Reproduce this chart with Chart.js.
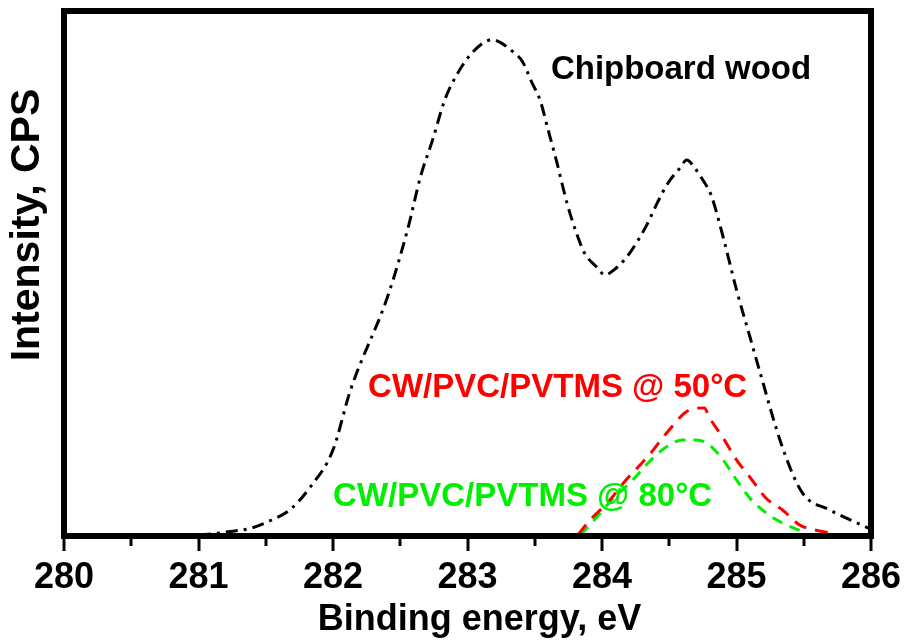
<!DOCTYPE html>
<html>
<head>
<meta charset="utf-8">
<script src="https://cdn.jsdelivr.net/npm/chart.js@4/dist/chart.umd.min.js"></script>
<style>
  html, body { margin: 0; padding: 0; background: #ffffff; }
  #wrap { width: 907px; height: 641px; }
</style>
</head>
<body>
<div id="wrap"><canvas id="c" width="907" height="641"></canvas></div>
<script>
// ---- Data ----
const xTickValues = [280, 281, 282, 283, 284, 285, 286];
const xTitle = 'Binding energy, eV';
const yTitle = 'Intensity, CPS';

const seriesNames = ['Chipboard wood', 'CW/PVC/PVTMS @ 50°C', 'CW/PVC/PVTMS @ 80°C'];

const energyCW = [280.0, 280.5, 281.0, 281.22, 281.39, 281.54, 281.68, 281.83, 282.00, 282.13, 282.41, 282.56, 282.65, 282.74, 282.83, 282.91, 283.04, 283.18, 283.34, 283.41, 283.48, 283.54, 283.60, 283.66, 283.74, 283.81, 283.87, 283.97, 284.02, 284.09, 284.18, 284.27, 284.34, 284.41, 284.49, 284.58, 284.63, 284.69, 284.75, 284.81, 284.90, 285.00, 285.10, 285.17, 285.34, 285.49, 285.69, 285.93, 286.0];
const intensityCW = [0, 0, 0.2, 0.8, 1.5, 3.0, 5.0, 9.3, 16.4, 27.8, 45.9, 58.9, 68.4, 75.4, 83.0, 87.4, 92.2, 94.5, 92.2, 90.3, 86.3, 83.0, 77.3, 71.6, 63.4, 57.7, 53.9, 51.0, 49.7, 50.7, 53.0, 56.4, 59.6, 63.4, 67.2, 70.1, 71.6, 70.1, 67.8, 65.0, 57.0, 46.9, 37.9, 31.6, 17.0, 8.2, 5.0, 2.1, 1.3];

const energy50 = [283.82, 283.91, 284.04, 284.18, 284.35, 284.48, 284.65, 284.76, 284.80, 284.90, 285.00, 285.10, 285.22, 285.34, 285.47, 285.59, 285.69];
const intensity50 = [0.2, 3.0, 6.3, 10.7, 15.4, 19.6, 24.0, 24.4, 22.5, 18.7, 14.5, 11.2, 7.2, 5.0, 2.1, 1.1, 0.6];

const energy80 = [283.84, 283.93, 284.06, 284.23, 284.35, 284.48, 284.60, 284.70, 284.78, 284.90, 285.00, 285.10, 285.22, 285.34, 285.49];
const intensity80 = [0.2, 2.7, 6.5, 10.7, 14.1, 17.0, 18.3, 18.3, 17.7, 14.5, 10.7, 7.2, 4.4, 2.5, 0.8];

// ---- Build datasets ----
const toPoints = (xs, ys) => xs.map((x, i) => ({ x: x, y: ys[i] }));

const FONT = '"Liberation Sans", Arial, sans-serif';

const framePlugin = {
  id: 'frame',
  beforeDraw(chart) {
    const ctx = chart.ctx;
    ctx.save();
    ctx.fillStyle = '#ffffff';
    ctx.fillRect(0, 0, chart.width, chart.height);
    ctx.restore();
  },
  afterDraw(chart) {
    const ctx = chart.ctx;
    const a = chart.chartArea;
    const xs = chart.scales.x;
    ctx.save();
    // ticks: major at integers, minor at halves
    ctx.strokeStyle = '#000';
    ctx.lineWidth = 3;
    for (let v = xs.min; v <= xs.max + 1e-9; v += 0.5) {
      const px = Math.round(xs.getPixelForValue(v));
      const major = Math.abs(v - Math.round(v)) < 1e-6;
      ctx.beginPath();
      ctx.moveTo(px, a.bottom);
      ctx.lineTo(px, a.bottom + (major ? 15 : 10));
      ctx.stroke();
    }
    // frame
    ctx.lineWidth = 6;
    ctx.lineJoin = 'miter';
    ctx.strokeRect(a.left, a.top, a.right - a.left, a.bottom - a.top);

    // axis titles
    ctx.fillStyle = '#000';
    ctx.font = 'bold 36px ' + FONT;
    ctx.textAlign = 'center';
    ctx.textBaseline = 'middle';
    ctx.fillText(xTitle, (a.left + a.right) / 2 + 12, 620);

    ctx.save();
    ctx.translate(28, 225);
    ctx.rotate(-Math.PI / 2);
    ctx.font = 'bold 41px ' + FONT;
    ctx.fillText(yTitle, 0, 0);
    ctx.restore();

    // series labels
    const ys = chart.scales.y;
    ctx.font = 'bold 33px ' + FONT;
    ctx.textAlign = 'left';
    ctx.fillStyle = '#000000';
    ctx.fillText(seriesNames[0], xs.getPixelForValue(283.62), ys.getPixelForValue(88.8));
    ctx.textAlign = 'center';
    ctx.fillStyle = '#ff0000';
    ctx.fillText(seriesNames[1], xs.getPixelForValue(283.67), ys.getPixelForValue(28.2));
    ctx.fillStyle = '#00ee00';
    ctx.fillText(seriesNames[2], xs.getPixelForValue(283.41), ys.getPixelForValue(7.4));
    ctx.restore();
  }
};

new Chart(document.getElementById('c'), {
  type: 'line',
  data: {
    datasets: [
      {
        label: seriesNames[0],
        data: toPoints(energyCW, intensityCW),
        borderColor: '#000000',
        borderWidth: 3,
        borderDash: [12, 6, 3, 6],
        pointRadius: 0,
        cubicInterpolationMode: 'monotone',
        fill: false
      },
      {
        label: seriesNames[1],
        data: toPoints(energy50, intensity50),
        borderColor: '#ff0000',
        borderWidth: 3,
        borderDash: [13, 9],
        pointRadius: 0,
        cubicInterpolationMode: 'monotone',
        fill: false
      },
      {
        label: seriesNames[2],
        data: toPoints(energy80, intensity80),
        borderColor: '#00ee00',
        borderWidth: 3,
        borderDash: [11, 8],
        pointRadius: 0,
        cubicInterpolationMode: 'monotone',
        fill: false
      }
    ]
  },
  options: {
    responsive: false,
    animation: false,
    devicePixelRatio: 1,
    layout: { padding: { top: 11, right: 36, left: 0, bottom: 0 } },
    plugins: {
      legend: { display: false },
      tooltip: { enabled: false }
    },
    scales: {
      x: {
        type: 'linear',
        min: 280,
        max: 286,
        afterFit(scale) { scale.height = 105; scale.paddingLeft = 0; scale.paddingRight = 0; },
        afterBuildTicks(scale) { scale.ticks = xTickValues.map(v => ({ value: v })); },
        grid: { display: false, drawTicks: false },
        border: { display: false },
        ticks: {
          color: '#000',
          padding: 20,
          maxRotation: 0,
          autoSkip: false,
          font: { family: FONT, size: 36, weight: 'bold' },
          callback: (v) => String(v)
        },
        title: { display: false }
      },
      y: {
        type: 'linear',
        min: 0,
        max: 100,
        afterFit(scale) { scale.width = 64; scale.paddingTop = 0; scale.paddingBottom = 0; },
        grid: { display: false, drawTicks: false },
        border: { display: false },
        ticks: { display: false },
        title: { display: false }
      }
    }
  },
  plugins: [framePlugin]
});
</script>
</body>
</html>
